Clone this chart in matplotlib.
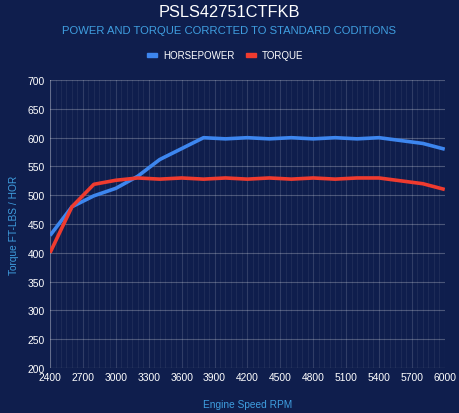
import numpy as np
import matplotlib
matplotlib.use("Agg")
import matplotlib.pyplot as plt
from matplotlib.ticker import MultipleLocator
from matplotlib.patches import Rectangle

plt.rcParams['font.family'] = ['Liberation Sans', 'DejaVu Sans']

# 데이터 - 그림에서 읽은 값
rpm = [2400, 2600, 2800, 3000, 3200, 3400, 3600, 3800, 4000, 4200,
       4400, 4600, 4800, 5000, 5200, 5400, 5600, 5800, 6000]
horsepower = [430, 480, 499, 512, 533, 562, 581, 600, 598, 600,
              598, 600, 598, 600, 598, 600, 595, 590, 580]
torque = [400, 480, 519, 526, 530, 528, 530, 528, 530, 528,
          530, 528, 530, 528, 530, 530, 525, 520, 510]
xticks = list(range(2400, 6001, 300))

bg = '#0f1e4d'
hp_color = '#3d86ef'
tq_color = '#ef3b2f'
label_color = '#3f9ee0'

fig = plt.figure(figsize=(4.59, 4.14), dpi=100, facecolor=bg)
ax = fig.add_axes([0.109, 0.109, 0.860, 0.695], facecolor=bg)

ax.plot(rpm, horsepower, color=hp_color, lw=2.6, solid_capstyle='butt', zorder=3)
ax.plot(rpm, torque, color=tq_color, lw=2.6, solid_capstyle='butt', zorder=3)

ax.set_xlim(2400, 6000)
ax.set_ylim(200, 700)
ax.set_xticks(xticks)
ax.xaxis.set_minor_locator(MultipleLocator(50))
ax.yaxis.set_major_locator(MultipleLocator(50))

ax.grid(axis='y', which='major', color='white', alpha=0.25, lw=0.8)
ax.grid(axis='x', which='major', color='white', alpha=0.14, lw=0.8)
ax.grid(axis='x', which='minor', color='white', alpha=0.06, lw=0.8)

for s in ax.spines.values():
    s.set_visible(False)
ax.axvline(2400, color='white', alpha=0.25, lw=0.8)
ax.axhline(200, color='white', alpha=0.25, lw=0.8)

ax.tick_params(axis='both', which='both', length=0, colors='white', labelsize=7.4)
ax.tick_params(axis='x', pad=3)
ax.tick_params(axis='y', pad=4)

ax.set_xlabel('Engine Speed RPM', color=label_color, fontsize=7.3, labelpad=12)
ax.set_ylabel('Torque FT-LBS / HOR', color=label_color, fontsize=7.3, labelpad=6)

fig.text(0.5, 0.97, 'PSLS42751CTFKB', color='white', fontsize=11.8,
         ha='center', va='center')
fig.text(0.5, 0.925, 'POWER AND TORQUE CORRCTED TO STANDARD CODITIONS',
         color=label_color, fontsize=8.1, ha='center', va='center')

# 범례 - 작은 색 상자 + 글자
ly = 1 - 56 / 414
for x0, c, t in [(147, hp_color, 'HORSEPOWER'), (246, tq_color, 'TORQUE')]:
    fig.patches.append(Rectangle((x0 / 459, ly - 2 / 414), 10 / 459, 4 / 414,
                                 transform=fig.transFigure, color=c))
    fig.text((x0 + 16) / 459, ly, t, color='white', fontsize=7.0,
             ha='left', va='center')

fig.savefig('out.png', dpi=100, facecolor=bg)
